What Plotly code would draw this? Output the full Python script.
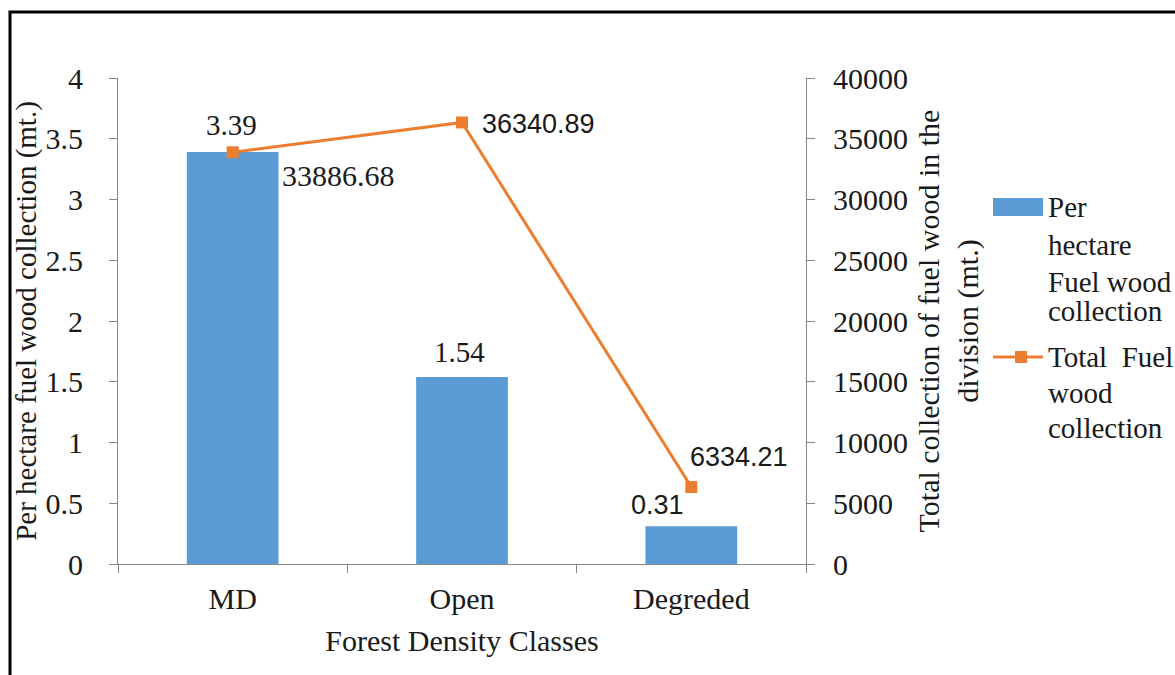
import plotly.graph_objects as go

categories = ["MD", "Open", "Degreded"]
per_hectare = [3.39, 1.54, 0.31]
total_collection = [33886.68, 36340.89, 6334.21]
per_hectare_labels = ["3.39", "1.54", "0.31"]
total_labels = ["33886.68", "36340.89", "6334.21"]
left_ticks = [0, 0.5, 1, 1.5, 2, 2.5, 3, 3.5, 4]
left_tick_text = ["0", "0.5", "1", "1.5", "2", "2.5", "3", "3.5", "4"]
right_ticks = [0, 5000, 10000, 15000, 20000, 25000, 30000, 35000, 40000]
right_tick_text = ["0", "5000", "10000", "15000", "20000", "25000", "30000", "35000", "40000"]
legend_bar_lines = ["Per", "hectare", "Fuel wood", "collection"]
legend_line_lines = ["Total  Fuel", "wood", "collection"]

SERIF = "Liberation Serif, Times New Roman, serif"
SANS = "Liberation Sans, Arial, sans-serif"
BLUE = "#5b9bd5"
ORANGE = "#ed7d31"
AXIS = "#868686"
TXT = "#1a1a1a"
FS = 30

L, T, W, H = 118, 78, 688, 486


def px(x):
    return (x - L) / W


def py(y):
    return (T + H - y) / H


fig = go.Figure()
fig.add_trace(go.Bar(
    x=categories, y=per_hectare, name="Per hectare Fuel wood collection",
    marker=dict(color=BLUE, line=dict(width=0)), width=0.4, yaxis="y",
    showlegend=False,
))
fig.add_trace(go.Scatter(
    x=categories, y=total_collection, name="Total Fuel wood collection",
    mode="lines+markers", line=dict(color=ORANGE, width=3),
    marker=dict(symbol="square", size=12, color=ORANGE), yaxis="y2",
    showlegend=False,
))

# data labels (positions derived from data values)
bar_label_style = [
    dict(font=SERIF, size=29, xshift=-1, yshift=27),
    dict(font=SERIF, size=29, xshift=-3, yshift=25),
    dict(font=SANS, size=27, xshift=-34, yshift=21),
]
for cat, v, t, s in zip(categories, per_hectare, per_hectare_labels, bar_label_style):
    fig.add_annotation(x=cat, y=v, yref="y", text=t, showarrow=False,
                       xshift=s["xshift"], yshift=s["yshift"],
                       font=dict(family=s["font"], size=s["size"], color=TXT))
line_label_style = [
    dict(font=SERIF, size=30, xshift=106, yshift=-23),
    dict(font=SANS, size=27, xshift=76, yshift=-2),
    dict(font=SANS, size=27, xshift=48, yshift=30),
]
for cat, v, t, s in zip(categories, total_collection, total_labels, line_label_style):
    fig.add_annotation(x=cat, y=v, yref="y2", text=t, showarrow=False,
                       xshift=s["xshift"], yshift=s["yshift"],
                       font=dict(family=s["font"], size=s["size"], color=TXT))

# outer frame
fig.add_shape(type="rect", xref="paper", yref="paper",
              x0=px(10), x1=px(1190), y0=py(690), y1=py(12),
              line=dict(color="black", width=3), fillcolor="rgba(0,0,0,0)", layer="below")

# legend (drawn manually to match the wide swatch style)
fig.add_shape(type="rect", xref="paper", yref="paper",
              x0=px(993), x1=px(1043), y0=py(216), y1=py(198),
              line=dict(width=0), fillcolor=BLUE)
fig.add_shape(type="line", xref="paper", yref="paper",
              x0=px(993), x1=px(1043), y0=py(357), y1=py(357),
              line=dict(color=ORANGE, width=3))
fig.add_shape(type="rect", xref="paper", yref="paper",
              x0=px(1015), x1=px(1027), y0=py(363), y1=py(351),
              line=dict(width=0), fillcolor=ORANGE)
bar_line_y = [207, 245, 282, 311]
for t, yy in zip(legend_bar_lines, bar_line_y):
    fig.add_annotation(xref="paper", yref="paper", x=px(1046), y=py(yy), text=t,
                       showarrow=False, xanchor="left", yanchor="middle",
                       font=dict(family=SERIF, size=29, color=TXT))
line_line_y = [357, 393, 428]
for t, yy in zip(legend_line_lines, line_line_y):
    fig.add_annotation(xref="paper", yref="paper", x=px(1046), y=py(yy), text=t.replace("  ", "&nbsp; "),
                       showarrow=False, xanchor="left", yanchor="middle",
                       font=dict(family=SERIF, size=29, color=TXT))

fig.update_layout(
    width=1175, height=675,
    margin=dict(l=L, r=1175 - L - W, t=T, b=675 - T - H),
    paper_bgcolor="white", plot_bgcolor="white",
    font=dict(family=SERIF, size=FS, color=TXT),
    showlegend=False,
    xaxis=dict(
        title=dict(text="Forest Density Classes", font=dict(family=SERIF, size=FS), standoff=15),
        showline=True, linecolor=AXIS, linewidth=1,
        ticks="outside", ticklen=8, tickcolor=AXIS, tickson="boundaries",
        ticklabelstandoff=8,
        tickfont=dict(family=SERIF, size=FS), showgrid=False,
    ),
    yaxis=dict(
        title=dict(text="Per hectare fuel wood collection (mt.)", font=dict(family=SERIF, size=29), standoff=0),
        range=[0, 4], tickvals=left_ticks, ticktext=left_tick_text,
        showline=True, linecolor=AXIS, linewidth=1,
        ticks="outside", ticklen=8, tickcolor=AXIS, ticklabelstandoff=20,
        tickfont=dict(family=SERIF, size=FS), showgrid=False, zeroline=False,
    ),
    yaxis2=dict(
        title=dict(text="Total collection of fuel wood in the<br>division (mt.)", font=dict(family=SERIF, size=FS), standoff=10),
        range=[0, 40000], tickvals=right_ticks, ticktext=right_tick_text,
        overlaying="y", side="right",
        showline=True, linecolor=AXIS, linewidth=1,
        ticks="outside", ticklen=8, tickcolor=AXIS, ticklabelstandoff=12,
        tickfont=dict(family=SERIF, size=FS), showgrid=False, zeroline=False,
    ),
)

fig.write_html("out.html")
